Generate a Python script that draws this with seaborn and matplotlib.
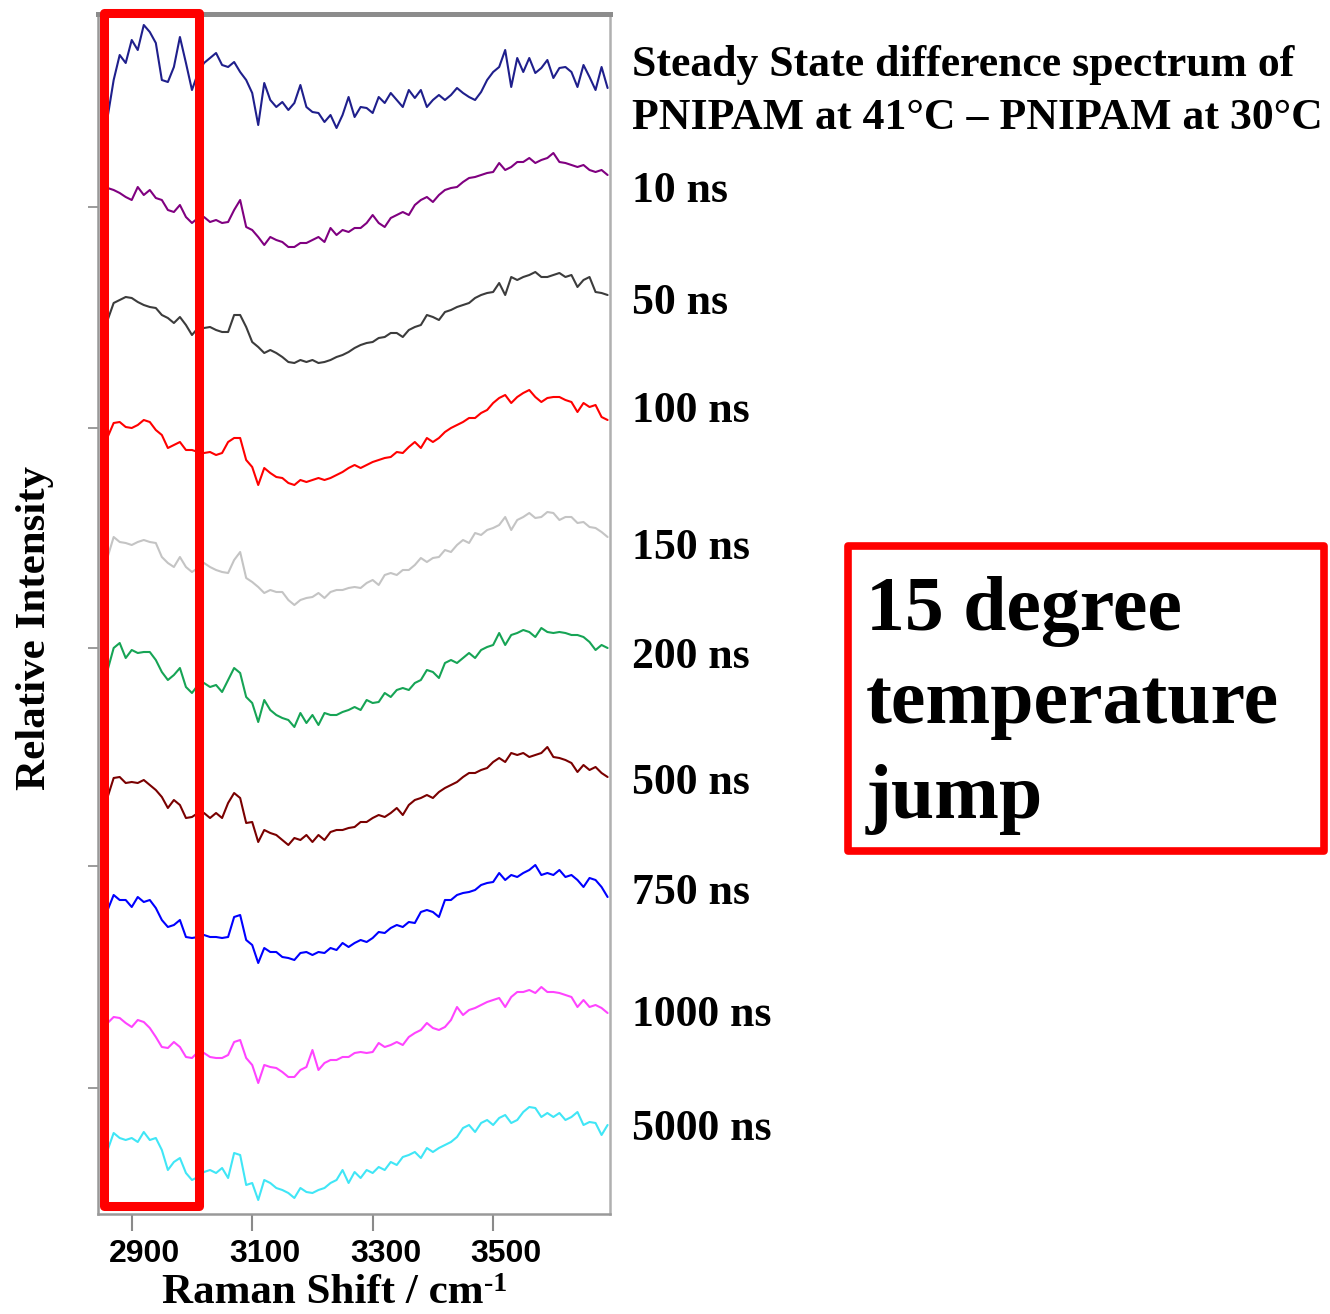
import matplotlib
matplotlib.use("Agg")
import matplotlib.pyplot as plt
import pandas as pd
import seaborn as sns
from matplotlib.patches import Rectangle
from matplotlib.transforms import ScaledTranslation

# ---------------- data ----------------
raman_shift = list(range(2860, 3700, 10))   # cm-1 sampling grid

delays = ["Steady State", "10 ns", "50 ns", "100 ns", "150 ns",
          "200 ns", "500 ns", "750 ns", "1000 ns", "5000 ns"]

# vertical stacking offsets (a.u.)
offsets = [1084, 964, 844, 714, 604, 484, 364, 244, 124, 4]

steady_state = [13, 50, 75, 67, 90, 80, 105, 98, 87, 50,
                48, 63, 93, 67, 40, 57, 67, 72, 77, 65,
                63, 68, 58, 50, 37, 5, 47, 30, 23, 28,
                20, 27, 45, 23, 18, 17, 8, 15, 2, 15,
                33, 13, 23, 22, 17, 33, 27, 37, 30, 23,
                40, 32, 40, 23, 30, 35, 30, 35, 42, 37,
                33, 30, 38, 50, 58, 63, 80, 43, 72, 58,
                72, 57, 62, 70, 52, 62, 63, 58, 43, 65,
                53, 40, 63, 42]
ns10 = [62, 60, 57, 53, 50, 63, 55, 60, 52, 50,
        40, 38, 45, 33, 27, 32, 33, 28, 30, 27,
        28, 40, 50, 23, 20, 13, 5, 13, 10, 8,
        3, 3, 7, 7, 10, 13, 8, 22, 15, 20,
        18, 22, 22, 27, 35, 27, 23, 32, 35, 38,
        35, 45, 50, 53, 48, 55, 60, 62, 63, 68,
        72, 73, 75, 77, 78, 87, 80, 83, 88, 88,
        92, 87, 90, 92, 97, 88, 87, 85, 83, 85,
        80, 78, 80, 75]
ns50 = [50, 67, 70, 73, 72, 68, 65, 63, 62, 55,
        52, 47, 53, 45, 35, 42, 42, 43, 40, 38,
        38, 55, 55, 43, 28, 23, 17, 20, 17, 13,
        8, 7, 10, 8, 10, 7, 8, 10, 13, 15,
        18, 22, 25, 27, 28, 32, 33, 37, 37, 33,
        40, 43, 45, 55, 53, 50, 58, 60, 63, 65,
        67, 72, 75, 77, 78, 87, 75, 93, 90, 93,
        95, 98, 93, 93, 95, 97, 93, 95, 83, 90,
        93, 78, 77, 75]
ns100 = [63, 77, 78, 73, 72, 75, 80, 78, 70, 65,
         52, 55, 58, 50, 50, 48, 47, 48, 45, 47,
         58, 62, 62, 40, 33, 15, 32, 27, 23, 22,
         17, 15, 20, 18, 20, 22, 20, 22, 25, 28,
         32, 35, 32, 35, 38, 40, 42, 43, 48, 47,
         53, 58, 52, 62, 58, 62, 68, 72, 75, 78,
         82, 82, 87, 90, 97, 102, 105, 97, 103, 107,
         110, 103, 98, 102, 103, 103, 100, 98, 88, 97,
         93, 95, 83, 80]
ns150 = [53, 73, 68, 67, 65, 68, 70, 68, 67, 53,
         47, 43, 53, 43, 38, 42, 47, 43, 40, 38,
         37, 50, 58, 32, 28, 23, 17, 20, 18, 18,
         10, 5, 10, 12, 13, 17, 12, 18, 20, 20,
         22, 23, 22, 27, 30, 25, 35, 37, 35, 40,
         40, 45, 52, 48, 52, 53, 60, 58, 65, 70,
         67, 77, 75, 80, 82, 85, 93, 80, 90, 93,
         97, 92, 93, 98, 97, 90, 93, 93, 87, 88,
         83, 82, 78, 73]
ns200 = [60, 82, 87, 72, 80, 77, 78, 78, 70, 58,
         50, 55, 62, 43, 37, 45, 47, 43, 45, 38,
         50, 62, 57, 33, 27, 8, 30, 20, 15, 12,
         10, 3, 17, 7, 15, 5, 17, 15, 15, 18,
         20, 23, 20, 30, 27, 28, 37, 33, 40, 42,
         40, 47, 50, 60, 58, 52, 67, 70, 67, 72,
         77, 72, 80, 83, 85, 97, 85, 95, 97, 100,
         98, 93, 102, 98, 97, 98, 97, 95, 95, 93,
         88, 80, 85, 82]
ns500 = [53, 72, 73, 67, 68, 67, 70, 65, 60, 53,
         42, 50, 45, 32, 33, 37, 37, 32, 37, 32,
         47, 57, 52, 27, 28, 8, 20, 17, 15, 10,
         5, 12, 10, 15, 8, 15, 10, 18, 20, 20,
         22, 23, 28, 28, 32, 35, 33, 37, 42, 35,
         45, 50, 52, 55, 52, 58, 62, 65, 68, 73,
         77, 77, 80, 82, 88, 92, 88, 97, 95, 97,
         93, 95, 97, 103, 93, 92, 90, 87, 78, 85,
         80, 83, 77, 73]
ns750 = [60, 75, 70, 70, 63, 73, 68, 70, 62, 50,
         43, 45, 50, 33, 32, 33, 35, 33, 33, 32,
         33, 53, 55, 30, 25, 7, 22, 18, 18, 13,
         12, 10, 17, 18, 15, 18, 17, 22, 20, 27,
         23, 27, 30, 28, 32, 38, 37, 42, 45, 43,
         48, 47, 58, 60, 58, 53, 70, 70, 75, 77,
         78, 80, 85, 87, 88, 97, 90, 95, 93, 97,
         100, 105, 95, 97, 95, 100, 93, 95, 90, 83,
         92, 90, 83, 73]
ns1000 = [67, 73, 72, 67, 63, 70, 68, 62, 53, 43,
          42, 48, 43, 33, 32, 38, 37, 33, 32, 32,
          35, 48, 50, 32, 25, 7, 25, 23, 22, 18,
          13, 13, 20, 23, 40, 20, 27, 30, 30, 33,
          33, 37, 38, 37, 38, 47, 43, 45, 48, 45,
          53, 57, 60, 67, 62, 60, 63, 70, 83, 75,
          80, 82, 85, 88, 90, 92, 83, 93, 98, 98,
          100, 97, 103, 98, 98, 97, 95, 93, 83, 90,
          83, 85, 82, 77]
ns5000 = [60, 77, 72, 70, 72, 68, 78, 70, 72, 60,
          40, 48, 52, 37, 30, 33, 38, 40, 37, 42,
          32, 57, 55, 25, 27, 10, 30, 27, 22, 20,
          17, 12, 22, 18, 17, 20, 22, 27, 30, 40,
          27, 38, 32, 40, 37, 43, 40, 48, 45, 53,
          55, 58, 52, 62, 58, 62, 65, 68, 73, 82,
          85, 78, 87, 90, 85, 92, 95, 87, 90, 98,
          103, 102, 93, 97, 93, 97, 90, 93, 98, 85,
          88, 87, 75, 85]

series = [steady_state, ns10, ns50, ns100, ns150,
          ns200, ns500, ns750, ns1000, ns5000]

xtick_values = [2900, 3100, 3300, 3500]

label_texts = ["Steady State difference spectrum of",
               "PNIPAM at 41\u00b0C \u2013 PNIPAM at 30\u00b0C",
               "10 ns", "50 ns", "100 ns", "150 ns", "200 ns",
               "500 ns", "750 ns", "1000 ns", "5000 ns"]
box_lines = ["15 degree", "temperature", "jump"]
xlabel_main = "Raman Shift / cm"
xlabel_sup = "-1"
ylabel_text = "Relative Intensity"

# ---------------- styling / layout ----------------
colors = ["#1f1f8c", "#800080", "#3c3c3c", "#ff0000", "#c4c4c4",
          "#16a455", "#7a0000", "#0000ff", "#ff44ff", "#40e6f6"]
label_baselines_px = [76, 129, 202, 314, 422, 559, 668, 794, 904, 1026, 1140]
ytick_positions = [1007, 786, 566, 348, 126]
box_baselines_px = [630, 723, 818]

W, H = 1330, 1314

sns.set_style("ticks")
plt.rcParams["font.family"] = ["Liberation Serif", "DejaVu Serif"]
plt.rcParams["text.color"] = "black"
plt.rcParams["xtick.labelcolor"] = "black"

fig = plt.figure(figsize=(W / 100, H / 100), dpi=100)
ax = fig.add_axes([98 / W, 1 - 1214 / H, 512 / W, 1200 / H])

rows = []
for name, off, vals in zip(delays, offsets, series):
    for x, v in zip(raman_shift, vals):
        rows.append((name, x, off + v))
df = pd.DataFrame(rows, columns=["delay", "shift", "intensity"])

sns.lineplot(data=df, x="shift", y="intensity", hue="delay",
             palette=dict(zip(delays, colors)), estimator=None,
             legend=False, linewidth=1.5, ax=ax)

ax.set_xlim(2844, 3694)
ax.set_ylim(0, 1200)
ax.set_xlabel("")
ax.set_ylabel("")
ax.set_xticks(xtick_values)
ax.set_xticklabels([str(v) for v in xtick_values])
ax.set_yticks(ytick_positions)
ax.set_yticklabels([])

ax.tick_params(axis="x", direction="out", length=12, width=1.5,
               color="#8a8a8a", pad=6, labelsize=23, labelcolor="black")
ax.tick_params(axis="y", direction="out", length=7, width=1.2,
               color="#8a8a8a")
for lab in ax.get_xticklabels():
    lab.set_fontfamily(["Liberation Sans", "DejaVu Sans"])
    lab.set_fontweight("bold")
    lab.set_transform(lab.get_transform() +
                      ScaledTranslation(13 / 100, 0, fig.dpi_scale_trans))

for side in ["left", "bottom"]:
    ax.spines[side].set_color("#999999")
    ax.spines[side].set_linewidth(1.8)
ax.spines["right"].set_color("#b0b0b0")
ax.spines["right"].set_linewidth(1.8)
ax.spines["top"].set_color("#8c8c8c")
ax.spines["top"].set_linewidth(3.6)

# axis titles
fig.text(35 / W, 1 - 628 / H, ylabel_text, rotation=90,
         ha="center", va="center", fontsize=31, fontweight="bold",
         color="black")
fig.text(162 / W, 1 - 1303 / H, xlabel_main,
         ha="left", va="baseline", fontsize=31, fontweight="bold",
         color="black")
fig.text(484 / W, 1 - 1291 / H, xlabel_sup,
         ha="left", va="baseline", fontsize=20, fontweight="bold",
         color="black")

# spectrum labels
for txt, yb in zip(label_texts, label_baselines_px):
    fig.text(632 / W, 1 - yb / H, txt, ha="left", va="baseline",
             fontsize=31.5, fontweight="bold", color="black")

# annotation box text
for txt, yb in zip(box_lines, box_baselines_px):
    fig.text(866 / W, 1 - yb / H, txt, ha="left", va="baseline",
             fontsize=56, fontweight="bold", color="black")

# red highlight rectangles
fig.add_artist(Rectangle((103.5 / W, 1 - 1206 / H), 95 / W, 1193 / H,
                         transform=fig.transFigure, fill=False,
                         edgecolor="#ff0000", linewidth=6.5,
                         joinstyle="round"))
fig.add_artist(Rectangle((848 / W, 1 - 851 / H), 475.5 / W, 305 / H,
                         transform=fig.transFigure, fill=False,
                         edgecolor="#ff0000", linewidth=5.5,
                         joinstyle="round"))

fig.savefig("out.png", dpi=100)
